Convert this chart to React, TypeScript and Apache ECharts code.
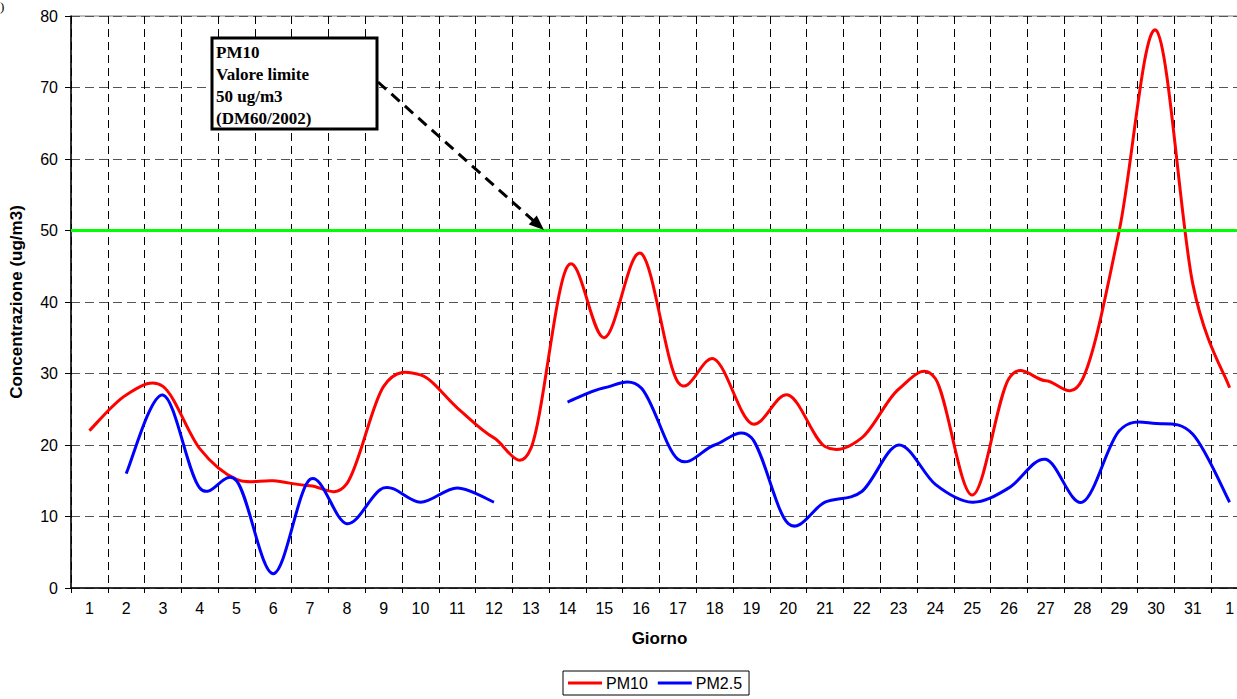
import React, { useEffect, useRef } from "react";
import * as echarts from "echarts";

const days = ["1","2","3","4","5","6","7","8","9","10","11","12","13","14","15","16","17","18","19","20","21","22","23","24","25","26","27","28","29","30","31","1"];
const pm10 = [22, 27, 28.2, 19.5, 15.2, 15, 14.3, 14.6, 28.2, 29.8, 25.2, 21, 19.5, 45, 35, 46.8, 28.8, 32, 23, 27, 19.8, 21, 27.8, 29.3, 13, 29.3, 29, 29.2, 50, 78, 42.5, 28];
const pm25 = [null, 16, 27, 14, 15, 2, 15.2, 9, 14, 12, 14, 12, null, 26, 28, 28, 18, 20, 21, 9, 12, 13.5, 20, 14.5, 12, 14, 18, 12, 22, 23, 21.5, 12];
const limitValue = 50;
const noteLines = ["PM10", "Valore limite", "50 ug/m3", "(DM60/2002)"];

const FONT = "'Liberation Sans', Arial, sans-serif";
const SERIF = "'Liberation Serif', 'Times New Roman', serif";

function smoothPath(pts: number[][]): string {
  // Catmull-Rom style bezier (like spreadsheet "smoothed line")
  let d = "";
  const n = pts.length;
  if (!n) return d;
  d += `M${pts[0][0]},${pts[0][1]}`;
  for (let i = 0; i < n - 1; i++) {
    const p0 = pts[i - 1] || pts[i];
    const p1 = pts[i];
    const p2 = pts[i + 1];
    const p3 = pts[i + 2] || pts[i + 1];
    const c1x = p1[0] + (p2[0] - p0[0]) / 6;
    const c1y = p1[1] + (p2[1] - p0[1]) / 6;
    const c2x = p2[0] - (p3[0] - p1[0]) / 6;
    const c2y = p2[1] - (p3[1] - p1[1]) / 6;
    d += ` C${c1x},${c1y} ${c2x},${c2y} ${p2[0]},${p2[1]}`;
  }
  return d;
}

function makeRender(values: (number | null)[], color: string) {
  return (params: any, api: any) => {
    const segs: number[][][] = [];
    let cur: number[][] = [];
    values.forEach((v, i) => {
      if (v == null) {
        if (cur.length) segs.push(cur);
        cur = [];
      } else {
        cur.push(api.coord([i, v]));
      }
    });
    if (cur.length) segs.push(cur);
    const pathData = segs.map(smoothPath).join(" ");
    return {
      type: "path",
      shape: { pathData },
      style: { stroke: color, lineWidth: 3, fill: "none", lineJoin: "round", lineCap: "butt" },
    };
  };
}

export default function App() {
  const ref = useRef<HTMLDivElement>(null);
  useEffect(() => {
    if (!ref.current) return;
    const chart = echarts.init(ref.current, undefined, { renderer: "svg" });
    const tip = [544, 230];
    const dir = [0.749, 0.663];
    const headLen = 15, halfW = 6;
    const base = [tip[0] - dir[0] * headLen, tip[1] - dir[1] * headLen];
    const perp = [-dir[1] * halfW, dir[0] * halfW];
    chart.setOption({
      animation: false,
      backgroundColor: "#fff",
      textStyle: { fontFamily: FONT },
      grid: { left: 71, top: 16, right: 12, bottom: 111, show: true, borderColor: "#808080", borderWidth: 1, backgroundColor: "transparent" },
      legend: {
        left: 563,
        top: 671,
        data: [
          { name: "PM10", icon: "rect" },
          { name: "PM2.5", icon: "rect" },
        ],
        itemWidth: 34,
        itemHeight: 3,
        itemGap: 10,
        padding: [4, 7, 4, 5],
        borderColor: "#000",
        borderWidth: 1,
        textStyle: { fontSize: 16, color: "#000", fontFamily: FONT, padding: [0, 0, 0, -1] },
      },
      xAxis: {
        type: "category",
        data: days,
        boundaryGap: true,
        name: "Giorno",
        nameLocation: "middle",
        nameGap: 42,
        nameTextStyle: { fontSize: 17, fontWeight: "bold", color: "#000", fontFamily: FONT },
        axisLine: { lineStyle: { color: "#000", width: 1.5 } },
        axisTick: { show: true, length: 5, inside: false, interval: 0, lineStyle: { color: "#000" } },
        axisLabel: { interval: 0, fontSize: 16, color: "#000", margin: 12, fontFamily: FONT },
        splitLine: { show: true, interval: 0, lineStyle: { color: "#000", type: [8, 5], width: 1 } },
      },
      yAxis: {
        type: "value",
        min: 0,
        max: 80,
        interval: 10,
        name: "Concentrazione (ug/m3)",
        nameLocation: "middle",
        nameGap: 46,
        nameTextStyle: { fontSize: 17, fontWeight: "bold", color: "#000", fontFamily: FONT },
        axisLine: { show: true, lineStyle: { color: "#000", width: 1.5 } },
        axisTick: { show: true, length: 6, lineStyle: { color: "#000" } },
        axisLabel: { fontSize: 16, color: "#000", margin: 13, fontFamily: FONT },
        splitLine: { show: true, lineStyle: { color: "#555", type: [9, 5], width: 1 } },
      },
      series: [
        {
          name: "PM10",
          type: "custom",
          data: [[0, pm10[0]]],
          renderItem: makeRender(pm10, "#ff0000"),
          itemStyle: { color: "#ff0000" },
          silent: true,
          z: 3,
          markLine: {
            silent: true,
            symbol: "none",
            label: { show: false },
            lineStyle: { color: "#00ff00", width: 3, type: "solid" },
            data: [{ yAxis: limitValue }],
          },
        },
        {
          name: "PM2.5",
          type: "custom",
          data: [[1, pm25[1]]],
          renderItem: makeRender(pm25, "#0000ff"),
          itemStyle: { color: "#0000ff" },
          silent: true,
          z: 4,
        },
      ],
      graphic: [
        {
          type: "text",
          left: 0,
          top: 0,
          z: 100,
          style: { text: ")", fontSize: 13, fontFamily: SERIF, fill: "#000" },
        },
        {
          type: "line",
          z: 100,
          shape: { x1: 378, y1: 82, x2: base[0] + dir[0] * 2, y2: base[1] + dir[1] * 2 },
          style: { stroke: "#000", lineWidth: 3, lineDash: [11, 7] },
        },
        {
          type: "polygon",
          z: 100,
          shape: {
            points: [
              [tip[0], tip[1]],
              [base[0] + perp[0], base[1] + perp[1]],
              [base[0] - perp[0], base[1] - perp[1]],
            ],
          },
          style: { fill: "#000" },
        },
        {
          type: "rect",
          z: 100,
          shape: { x: 212, y: 38, width: 165, height: 91 },
          style: { fill: "#fff", stroke: "#000", lineWidth: 3 },
        },
        ...noteLines.map((t, i) => ({
          type: "text",
          z: 101,
          x: 216,
          y: 52 + i * 22,
          style: {
            text: t,
            fontSize: 17,
            fontWeight: "bold",
            fontFamily: SERIF,
            fill: "#000",
            verticalAlign: "middle",
            align: "left",
          },
        })),
      ],
    });
    return () => chart.dispose();
  }, []);
  return (
    <div style={{ position: "absolute", left: 0, top: 0, width: 1237, height: 699, overflow: "hidden", background: "#fff" }}>
      <div ref={ref} style={{ width: 1260, height: 699 }} />
    </div>
  );
}
